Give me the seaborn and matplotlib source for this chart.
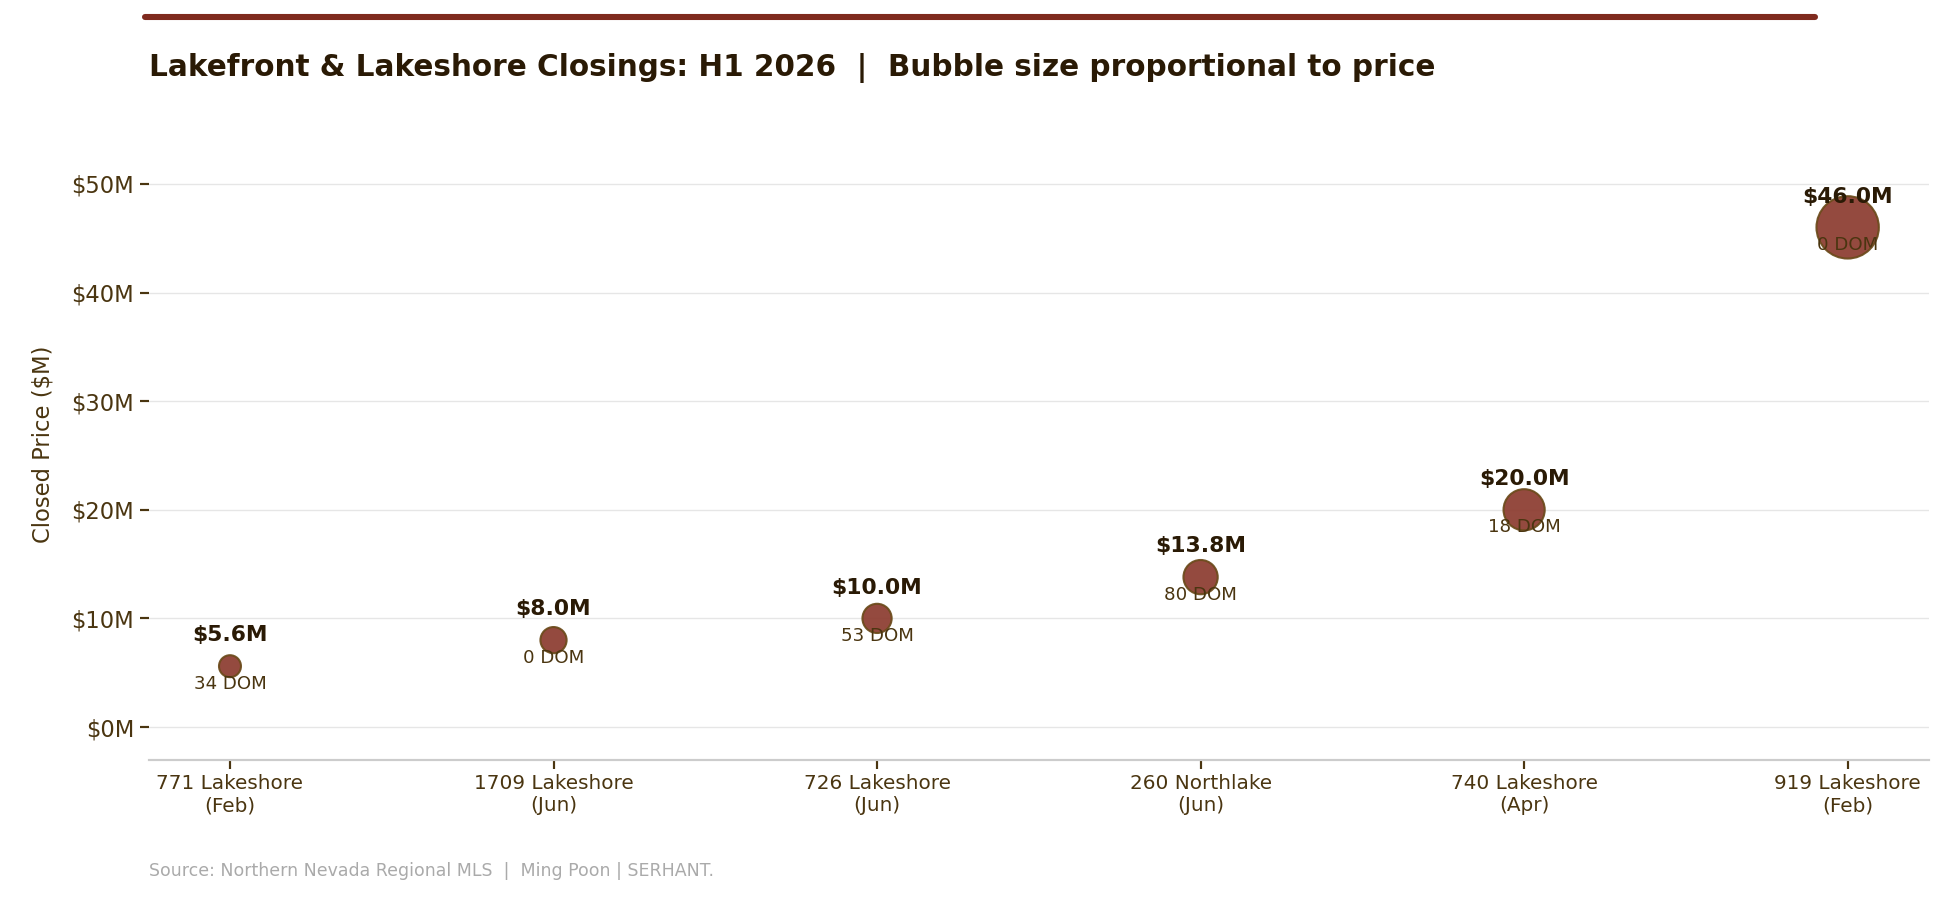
import matplotlib
matplotlib.use("Agg")
import matplotlib.pyplot as plt
import seaborn as sns
import pandas as pd

labels = ["771 Lakeshore\n(Feb)", "1709 Lakeshore\n(Jun)", "726 Lakeshore\n(Jun)",
          "260 Northlake\n(Jun)", "740 Lakeshore\n(Apr)", "919 Lakeshore\n(Feb)"]
prices = [5.6, 8.0, 10.0, 13.8, 20.0, 46.0]
dom = [34, 0, 53, 80, 18, 0]
yticks = [0, 10, 20, 30, 40, 50]

sns.set_theme(style="white")
plt.rcParams['font.family'] = ['DejaVu Sans']
fig = plt.figure(figsize=(15.592, 7.2), dpi=125)
ax = fig.add_axes([0.0765, 0.156, 0.913, 0.70])
df = pd.DataFrame({"x": range(len(prices)), "price": prices})
sns.scatterplot(data=df, x="x", y="price", size="price", sizes=(160, 1290),
                size_norm=(5.6, 46.0), color="#8B3A2E", edgecolor="#6B4A1A",
                linewidth=1.2, alpha=0.92, legend=False, ax=ax, zorder=3)
for i, (p, d) in enumerate(zip(prices, dom)):
    ax.annotate(f"${p:.1f}M", (i, p), xytext=(0, 12), textcoords="offset points",
                ha="center", va="bottom", fontsize=12.5, fontweight="bold", color="#2A1A05", zorder=4)
    ax.annotate(f"{d} DOM", (i, p), xytext=(0, -5), textcoords="offset points",
                ha="center", va="top", fontsize=10.5, color="#4A3510", zorder=4)
ax.set_xlim(-0.25, 5.25)
ax.set_ylim(-3, 55)
ax.set_xticks(range(len(labels)))
ax.set_xticklabels(labels, fontsize=11.5, color="#4A3510")
ax.set_yticks(yticks)
ax.set_yticklabels([f"${v}M" for v in yticks], fontsize=13, color="#4A3510")
ax.tick_params(axis="both", length=5, color="#4A3510", left=True, bottom=True)
ax.set_xlabel("")
ax.set_ylabel("Closed Price ($M)", fontsize=13, color="#4A3510", labelpad=10)
ax.grid(axis="y", color="#E6E6E6", linewidth=0.8)
ax.set_axisbelow(True)
for s in ["top", "right", "left"]:
    ax.spines[s].set_visible(False)
ax.spines["bottom"].set_color("#CCCCCC")
fig.add_artist(plt.Line2D([117/1568, 1460/1568], [1-14/724]*2, color="#7F2A1E", linewidth=3.5))
fig.text(120/1568, 1-55/724, "Lakefront & Lakeshore Closings: H1 2026  |  Bubble size proportional to price",
         fontsize=17, fontweight="bold", color="#2A1A05", va="center")
fig.text(120/1568, 1-701/724, "Source: Northern Nevada Regional MLS  |  Ming Poon | SERHANT.",
         fontsize=10, color="#AAAAAA", va="center")
fig.savefig("out.png", dpi=125)
